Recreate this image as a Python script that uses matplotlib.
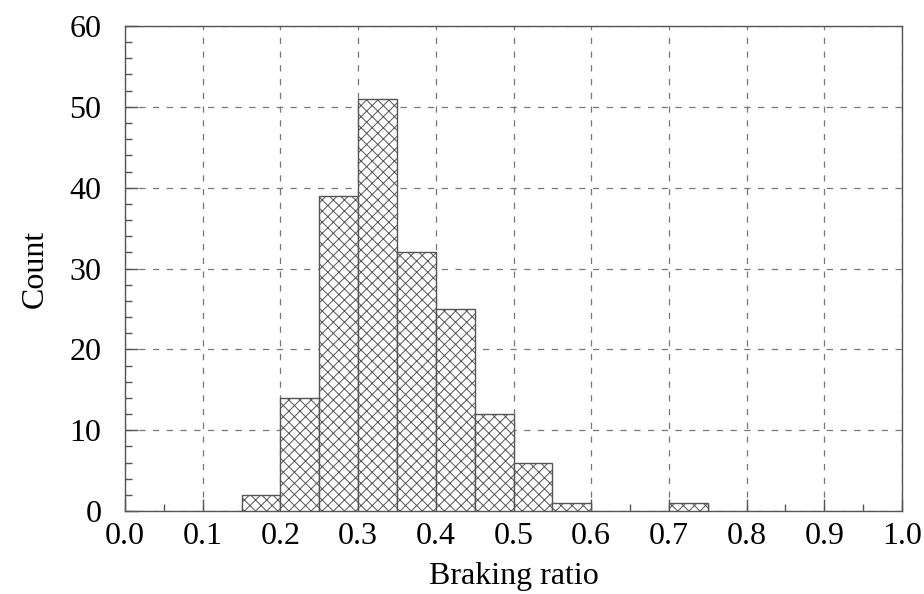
import matplotlib
matplotlib.use("Agg")
import matplotlib.pyplot as plt
from matplotlib.ticker import MultipleLocator
import numpy as np

# Histogram of braking ratio, bin width 0.05
bin_edges = [0.15, 0.20, 0.25, 0.30, 0.35, 0.40, 0.45, 0.50, 0.55, 0.60, 0.65, 0.70, 0.75]
counts = [2, 14, 39, 51, 32, 25, 12, 6, 1, 0, 0, 1]
x_ticks = [0.0, 0.1, 0.2, 0.3, 0.4, 0.5, 0.6, 0.7, 0.8, 0.9, 1.0]
y_ticks = [0, 10, 20, 30, 40, 50, 60]

plt.rcParams['font.family'] = ['Liberation Serif', 'DejaVu Serif']
plt.rcParams['hatch.color'] = '#666666'
plt.rcParams['hatch.linewidth'] = 0.7

fig = plt.figure(figsize=(9.24, 5.94), dpi=100)
ax = fig.add_axes([125 / 924, 1 - 511 / 594, (902 - 125) / 924, (511 - 26) / 594])

lefts = np.array(bin_edges[:-1])
widths = np.diff(bin_edges)
for l, w, c in zip(lefts, widths, counts):
    if c > 0:
        ax.bar(l, c, width=w, align='edge', facecolor='white',
               edgecolor='#555555', linewidth=1.0, hatch='xxx', zorder=3)

ax.set_xlim(0, 1)
ax.set_ylim(0, 60)
ax.set_xticks(x_ticks)
ax.set_xticklabels([f"{v:.1f}" for v in x_ticks])
ax.set_yticks(y_ticks)
ax.xaxis.set_minor_locator(MultipleLocator(0.05))
ax.yaxis.set_minor_locator(MultipleLocator(2))

ax.tick_params(axis='both', which='both', direction='in', top=False, right=False,
               labelsize=23, colors='#555555', labelcolor='black')
ax.tick_params(axis='both', which='major', length=9, width=1.0)
ax.tick_params(axis='both', which='minor', length=5, width=1.0)
ax.tick_params(axis='x', which='major', pad=8)
ax.tick_params(axis='y', which='major', pad=17)

ax.grid(True, which='major', linestyle=(0, (5, 6)), color='#777777', linewidth=0.9, zorder=0)
ax.set_axisbelow(True)

for s in ax.spines.values():
    s.set_color('#555555')
    s.set_linewidth(1.0)

ax.set_xlabel('Braking ratio', fontsize=23, labelpad=8)
ax.set_ylabel('Count', fontsize=23, labelpad=14)

fig.savefig('out.png', dpi=100)
